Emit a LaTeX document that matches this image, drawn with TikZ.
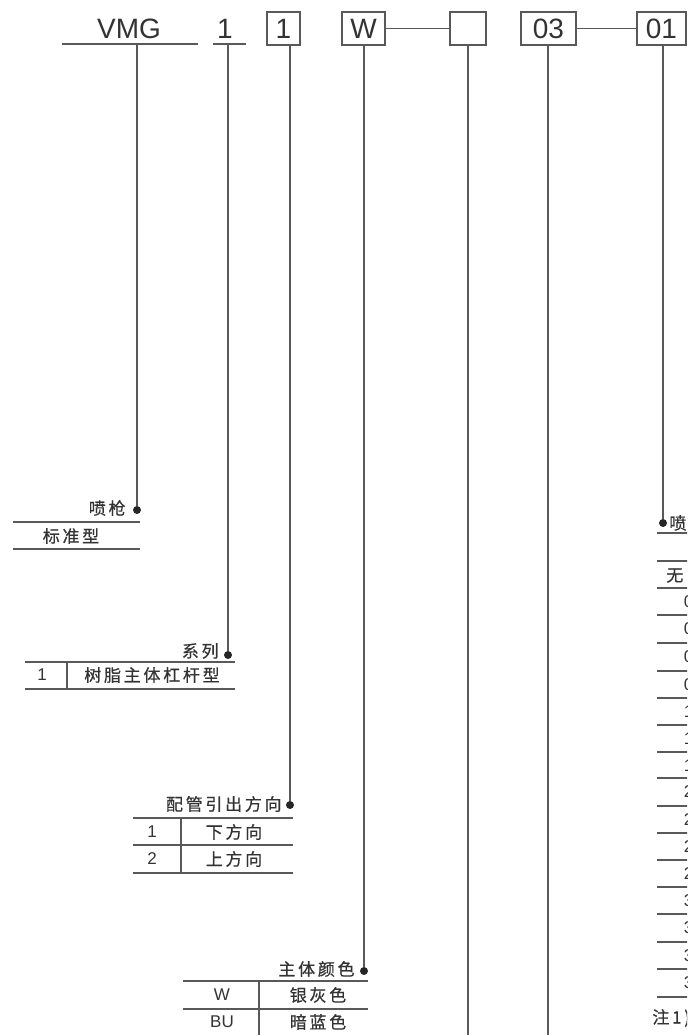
\documentclass[tikz,border=0pt]{standalone}
\usepackage{fontspec}
\setmainfont{Liberation Sans}
\newfontfamily\cjk[LetterSpace=16,FakeBold=0.6]{Noto Sans CJK SC}
\usetikzlibrary{positioning}

\begin{document}
\begin{tikzpicture}[
    x=0.5pt, y=-0.5pt,
    lw/.style={draw=black!65, line width=0.6pt},
    code/.style={font=\fontsize{14}{16}\selectfont, text=black!80, inner sep=0pt},
    codebox/.style={code, lw, minimum height=16.5pt},
    cn/.style={font=\cjk\fontsize{8.5}{10}\selectfont, text=black!80, inner sep=0pt},
    en/.style={font=\fontsize{8.5}{10}\selectfont, text=black!80, inner sep=0pt},
    dot/.style={circle, fill=black!85, inner sep=0pt, minimum size=4pt}
]
\useasboundingbox (0,0) rectangle (687,1035);
\clip (0,0) rectangle (687,1035);

% model code row
\node[code, anchor=base] (vmg) at (129,38) {VMG};
\node[code, anchor=base] (ser) at (225,38) {1};
\node[codebox, minimum width=16.5pt] (pipe) at (283.5,28.5) {1};
\node[codebox, minimum width=21.5pt] (wbox) at (363.5,28.5) {W};
\node[codebox, minimum width=18pt] (blank) at (468,28.5) {};
\node[codebox, minimum width=27.5pt] (b03) at (548.5,28.5) {03};
\node[codebox, minimum width=24.5pt] (b01) at (661.5,28.5) {01};
\draw[lw] (62,44) -- (198,44);
\draw[lw] (213,44) -- (246,44);
\coordinate (vmgU) at (137,44);
\coordinate (serU) at (228,44);
\draw[lw] (wbox.east) -- (blank.west);
\draw[lw] (b03.east) -- (b01.west);

% dots
\node[dot] (d1) at (137,510) {};
\node[dot] (d2) at (228,655) {};
\node[dot] (d3) at (290,805) {};
\node[dot] (d4) at (364,971) {};
\node[dot] (d5) at (663,523) {};
\coordinate (e1) at (468,1035);
\coordinate (e2) at (548,1035);

\draw[lw] (vmgU) -- (d1);
\draw[lw] (serU) -- (d2);
\draw[lw] (pipe.south -| d3) -- (d3);
\draw[lw] (wbox.south -| d4) -- (d4);
\draw[lw] (blank.south) -- (e1);
\draw[lw] (b03.south -| e2) -- (e2);
\draw[lw] (b01.south -| d5) -- (d5);

% spray gun
\node[cn, anchor=east] (t1) at (126,508) {喷枪};
\draw[lw] (13,522) -- (140,522);
\node[cn] (t1a) at (71,536) {标准型};
\draw[lw] (13,549) -- (140,549);

% series
\node[cn, anchor=east] (t2) at (219,651) {系列};
\draw[lw] (25,662) -- (235,662);
\draw[lw] (67,662) -- (67,689);
\node[en] (t2a) at (42,675) {1};
\node[cn] (t2b) at (152,675) {树脂主体杠杆型};
\draw[lw] (25,689) -- (235,689);

% piping direction
\node[cn, anchor=east] (t3) at (282,804) {配管引出方向};
\draw[lw] (133,818) -- (293,818);
\draw[lw] (133,845) -- (293,845);
\draw[lw] (133,873) -- (293,873);
\draw[lw] (181,818) -- (181,873);
\node[en] (t3a) at (152,832) {1};
\node[cn] (t3b) at (234,832) {下方向};
\node[en] (t3c) at (152,859) {2};
\node[cn] (t3d) at (234,859) {上方向};

% body colour
\node[cn, anchor=east] (t4) at (355,969) {主体颜色};
\draw[lw] (183,981) -- (368,981);
\draw[lw] (183,1009) -- (368,1009);
\draw[lw] (183,1036) -- (368,1036);
\draw[lw] (259,981) -- (259,1036);
\node[en] (t4a) at (222,995) {W};
\node[cn] (t4b) at (318,995) {银灰色};
\node[en] (t4c) at (222,1022) {BU};
\node[cn] (t4d) at (318,1022) {暗蓝色};

% nozzle (cut at the right edge)
\node[cn, anchor=west] (t5) at (669,523) {喷嘴};
\draw[lw] (657,533) -- (690,533);
\draw[lw] (657,561) -- (690,561);
\node[cn, anchor=west] (t5a) at (666,575) {无喷嘴};
\foreach \y/\n in {588/0,615/0,643/0,671/0,698/1,725/1,752/1,778/2,806/2,833/2,860/2,887/3,914/3,942/3,969/3}{
  \draw[lw] (657,\y) -- (690,\y);
  \node[en, anchor=west] at (683.5,\y+14) {\n};
}
\draw[lw] (657,997) -- (690,997);
\node[cn, anchor=west] (t5n) at (652,1018) {注1)喷嘴};
\end{tikzpicture}
\end{document}
